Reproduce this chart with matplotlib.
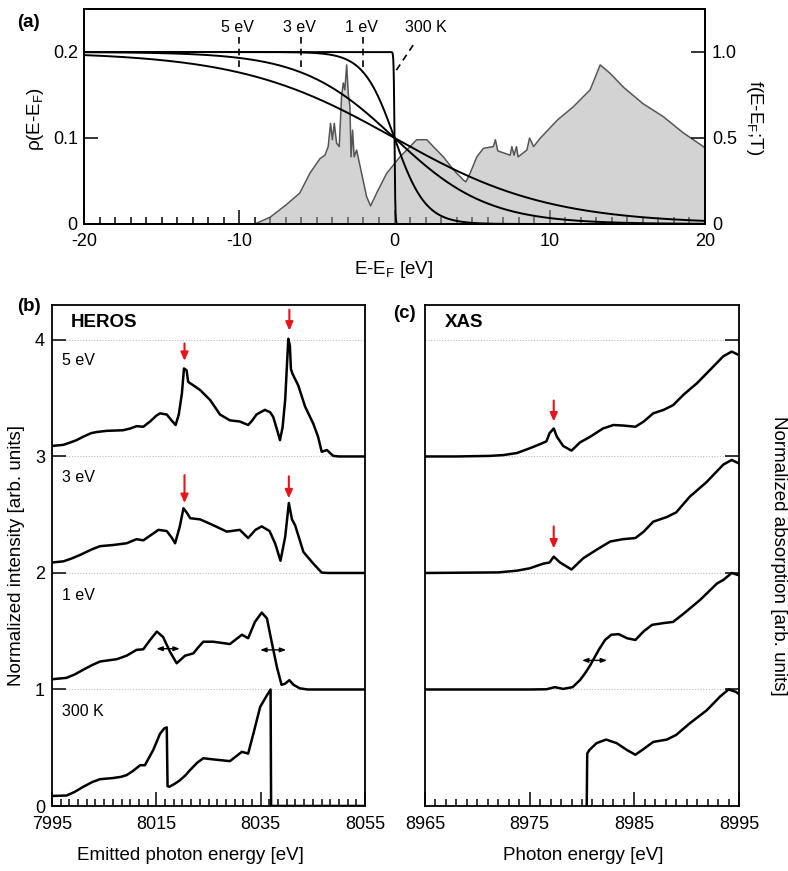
import numpy as np
import matplotlib
matplotlib.use('Agg')
import matplotlib.pyplot as plt
from matplotlib.ticker import MultipleLocator

plt.rcParams['font.family'] = ['Liberation Sans', 'DejaVu Sans']
plt.rcParams['mathtext.fontset'] = 'custom'
plt.rcParams['mathtext.rm'] = 'Liberation Sans'
plt.rcParams['axes.unicode_minus'] = False

# ---------------- data: panel (a) ----------------
dos_E = [-20, -9.0, -8.0, -7.0, -6.1, -5.45, -4.8, -4.48, -4.27, -4.12, -4.0, -3.88, -3.73,
         -3.56, -3.41, -3.3, -3.2, -3.08, -2.98, -2.87, -2.8, -2.7, -2.6, -2.44, -2.12, -1.8,
         -1.54, -1.15, -0.5, 0.35, 1.0, 1.43, 2.08, 2.5, 3.15, 3.8, 4.44, 4.6, 4.87, 5.3, 5.73,
         6.37, 6.5, 6.65, 7.45, 7.56, 7.7, 7.86, 7.96, 8.53, 8.7, 8.96, 9.4, 10.5, 11.5, 12.6,
         13.25, 13.9, 14.75, 16.0, 17.3, 18.6, 19.9, 20.0]
dos_val = [0, 0, 0.008, 0.022, 0.036, 0.059, 0.076, 0.080, 0.090, 0.117, 0.098, 0.117, 0.094,
           0.090, 0.148, 0.164, 0.156, 0.185, 0.152, 0.136, 0.078, 0.109, 0.078, 0.086, 0.059,
           0.032, 0.021, 0.036, 0.059, 0.078, 0.090, 0.098, 0.098, 0.090, 0.078, 0.063, 0.051,
           0.049, 0.059, 0.078, 0.088, 0.090, 0.098, 0.085, 0.080, 0.090, 0.080, 0.090, 0.078,
           0.086, 0.100, 0.090, 0.100, 0.121, 0.136, 0.156, 0.185, 0.175, 0.159, 0.140, 0.125,
           0.106, 0.090, 0.088]
kT_values = [5.0, 3.0, 1.0, 0.02585]          # eV (300 K = 0.02585 eV)
kT_labels = ['5 eV', '3 eV', '1 eV', '300 K']

# ---------------- data: panel (b) HEROS ----------------
heros_labels = ['5 eV', '3 eV', '1 eV', '300 K']
heros_5_E = [7995, 7997.2, 7998.5, 7999.7, 8001, 8002.5, 8003.6, 8005.5, 8008.6, 8010.0, 8011.2,
             8012.5, 8013.8, 8015.0, 8015.7, 8017, 8017.9, 8018.7, 8019.3, 8019.9, 8020.3, 8020.8,
             8021.1, 8022.1, 8023.4, 8025.3, 8026.3, 8027.2, 8029.1, 8031, 8032.6, 8033.4, 8034.2,
             8035.8, 8036.8, 8037.4, 8038.2, 8038.7, 8039.2, 8039.7, 8040.0, 8040.3, 8040.6,
             8040.8, 8041.1, 8042.2, 8043.5, 8045.1, 8046.0, 8046.7, 8047.7, 8048.9, 8050, 8055]
heros_5_I = [3.09, 3.10, 3.12, 3.14, 3.17, 3.20, 3.21, 3.22, 3.225, 3.24, 3.26, 3.255, 3.30, 3.35,
             3.37, 3.36, 3.31, 3.27, 3.36, 3.54, 3.755, 3.74, 3.64, 3.61, 3.57, 3.485, 3.42, 3.36,
             3.31, 3.30, 3.27, 3.31, 3.36, 3.40, 3.38, 3.34, 3.22, 3.14, 3.25, 3.485, 3.75, 4.01,
             3.95, 3.75, 3.71, 3.61, 3.43, 3.28, 3.17, 3.04, 3.055, 3.005, 3.0, 3.0]
heros_3_E = [7995, 7997.2, 7998.8, 8000.4, 8002.5, 8004.2, 8006.7, 8009.3, 8011.2, 8012.5, 8013.8,
             8015.4, 8017, 8018.0, 8018.6, 8019.5, 8020.2, 8020.8, 8021.5, 8023.4, 8025.9, 8028.5,
             8031, 8032.6, 8034.0, 8035.2, 8036.7, 8037.8, 8038.8, 8039.7, 8040.4, 8041, 8041.6,
             8043.2, 8045.1, 8046.7, 8048, 8055]
heros_3_I = [2.09, 2.10, 2.125, 2.155, 2.20, 2.23, 2.24, 2.255, 2.29, 2.28, 2.32, 2.37, 2.36, 2.30,
             2.255, 2.40, 2.555, 2.52, 2.47, 2.46, 2.41, 2.355, 2.37, 2.30, 2.37, 2.40, 2.36, 2.25,
             2.105, 2.31, 2.60, 2.46, 2.41, 2.18, 2.08, 2.003, 2.0, 2.0]
heros_1_E = [7995, 7997.8, 7999.4, 8001, 8002.7, 8004.2, 8007.4, 8009.3, 8011.2, 8012.5, 8013.8,
             8015.1, 8016.3, 8017.6, 8018.9, 8020.5, 8022.1, 8023.0, 8024, 8025.9, 8029.1, 8031.4,
             8032.6, 8033.9, 8035.2, 8036.2, 8037.1, 8038.1, 8039, 8039.7, 8040.5, 8041.3, 8042.5,
             8044, 8055]
heros_1_I = [1.088, 1.10, 1.13, 1.17, 1.21, 1.24, 1.26, 1.29, 1.34, 1.345, 1.425, 1.497, 1.45,
             1.325, 1.225, 1.29, 1.31, 1.36, 1.41, 1.41, 1.39, 1.47, 1.44, 1.58, 1.66, 1.61, 1.41,
             1.195, 1.04, 1.05, 1.08, 1.04, 1.01, 1.0, 1.0]
heros_0_E = [7995, 7997.8, 7999.3, 8001, 8002.7, 8004.2, 8006.7, 8008.2, 8009.3, 8010.5, 8011.9,
             8012.8, 8014.4, 8015.7, 8016.5, 8017.0, 8017.15, 8017.5, 8018.5, 8019.5, 8020.5,
             8021.5, 8022.8, 8024, 8025.9, 8029.1, 8031.4, 8032.6, 8033.6, 8034.9, 8036.2, 8036.9,
             8037.0, 8055]
heros_0_I = [0.086, 0.09, 0.12, 0.165, 0.205, 0.23, 0.24, 0.25, 0.265, 0.30, 0.35, 0.35, 0.48,
             0.62, 0.665, 0.675, 0.17, 0.165, 0.19, 0.22, 0.26, 0.31, 0.37, 0.41, 0.40, 0.385,
             0.465, 0.45, 0.62, 0.85, 0.95, 1.0, 0.0, 0.0]

# ---------------- data: panel (c) XAS ----------------
xas_5_E = [8965, 8968, 8971.2, 8972.5, 8973.8, 8975, 8976.1, 8976.6, 8976.9, 8977.3, 8977.6,
           8978.2, 8979, 8979.8, 8980.8, 8982, 8983, 8984, 8985.1, 8985.9, 8986.8, 8987.8,
           8988.7, 8989.7, 8991, 8992.2, 8993.5, 8994.3, 8995]
xas_5_I = [3.0, 3.0, 3.005, 3.012, 3.03, 3.07, 3.11, 3.13, 3.20, 3.24, 3.17, 3.09, 3.05, 3.12,
           3.17, 3.24, 3.27, 3.265, 3.255, 3.30, 3.37, 3.40, 3.44, 3.53, 3.63, 3.74, 3.86, 3.90,
           3.87]
xas_3_E = [8965, 8972, 8973.8, 8975, 8976.3, 8976.9, 8977.3, 8977.9, 8979, 8980.1, 8981.4,
           8982.7, 8983.9, 8985.1, 8985.9, 8986.8, 8988.1, 8989, 8990.3, 8991.9, 8993.5, 8994.3,
           8995]
xas_3_I = [2.0, 2.005, 2.02, 2.04, 2.08, 2.09, 2.14, 2.09, 2.03, 2.125, 2.20, 2.27, 2.29, 2.30,
           2.355, 2.44, 2.48, 2.52, 2.655, 2.78, 2.93, 2.97, 2.94]
xas_1_E = [8965, 8975, 8976.6, 8977.4, 8978.2, 8979.1, 8979.8, 8980.3, 8980.8, 8981.6, 8982.2,
           8982.8, 8983.5, 8984.3, 8985.1, 8985.9, 8986.7, 8987.8, 8988.7, 8989.7, 8991.3,
           8992.9, 8993.5, 8994.3, 8995]
xas_1_I = [1.0, 1.0, 1.002, 1.02, 1.005, 1.02, 1.08, 1.14, 1.21, 1.34, 1.425, 1.47, 1.475, 1.44,
           1.425, 1.50, 1.555, 1.57, 1.58, 1.65, 1.77, 1.91, 1.94, 2.0, 1.98]
xas_0_E = [8980.45, 8980.5, 8980.7, 8981.4, 8982.3, 8983.3, 8984.3, 8985.1, 8985.9, 8986.8,
           8988.1, 8989, 8990.3, 8991.9, 8993.2, 8994, 8994.7, 8995]
xas_0_I = [0.0, 0.45, 0.48, 0.54, 0.57, 0.54, 0.48, 0.44, 0.49, 0.55, 0.57, 0.61, 0.71, 0.82,
           0.94, 1.0, 0.98, 0.96]

# red arrow marks (x, y_start, y_end) and double arrows (x0, x1, y)
heros_red = [(8020.4, 3.97, 3.82), (8040.5, 4.26, 4.08), (8020.4, 2.84, 2.60), (8040.4, 2.83, 2.64)]
heros_dbl = [(8015.0, 8019.5, 1.35), (8034.9, 8039.9, 1.34)]
xas_red = [(8977.3, 3.48, 3.30), (8977.3, 2.40, 2.21)]
xas_dbl = [(8980.0, 8982.4, 1.25)]

# ---------------- figure ----------------
W, H = 788, 871
fig = plt.figure(figsize=(W / 100, H / 100), dpi=100)


def box(l, t, r, b):
    return [l / W, 1 - b / H, (r - l) / W, (b - t) / H]


FS = 13
axA = fig.add_axes(box(84, 9, 705, 224))
axB = fig.add_axes(box(52, 305, 365, 806))
axC = fig.add_axes(box(425, 305, 739, 806))

for ax in (axA, axB, axC):
    for s in ax.spines.values():
        s.set_linewidth(1.3)

# ----- panel (a) -----
axA.set_axisbelow(True)
axA.set_xlim(-20, 20)
axA.set_ylim(0, 0.25)
axA.fill_between(dos_E, dos_val, color='#acacac', alpha=0.52, lw=0, zorder=1)
axA.plot(dos_E, dos_val, color='#555555', lw=1.1, zorder=1.5)
axA.set_xticks([-20, -10, 0, 10, 20])
axA.xaxis.set_minor_locator(MultipleLocator(1))
axA.set_yticks([0, 0.1, 0.2])
axA.set_yticklabels(['0', '0.1', '0.2'])
axA.tick_params(which='both', direction='in', top=False, right=False, labelsize=FS, width=1.1)
axA.tick_params(which='major', length=10)
axA.tick_params(which='minor', length=5)
axA.tick_params(axis='x', pad=6.5)
axA.tick_params(axis='y', pad=4.5)

ax2 = axA.twinx()
ax2.set_ylim(0, 1.25)
ax2.set_yticks([0, 0.5, 1.0])
ax2.set_yticklabels(['0', '0.5', '1.0'])
ax2.tick_params(direction='in', length=10, width=1.1, labelsize=FS, pad=5)
for s in ax2.spines.values():
    s.set_linewidth(1.3)

Egrid = np.linspace(-20, 20, 8001)
for kT, lab in zip(kT_values, kT_labels):
    f = 1.0 / (1.0 + np.exp(np.clip(Egrid / kT, -700, 700)))
    ax2.plot(Egrid, f, color='black', lw=1.4)
    if lab != '300 K':
        x0 = -2 * kT
        f0 = 1.0 / (1.0 + np.exp(-2.0))
        ax2.plot([x0, x0], [1.085, f0], color='black', lw=1.2, ls=(0, (4, 3)))
        ax2.text(x0 - 0.1, 1.14, lab, ha='center', va='center', fontsize=11.5)
    else:
        ax2.plot([1.2, 0.05], [1.04, 0.885], color='black', lw=1.2, ls=(0, (4, 3)))
        ax2.text(2.0, 1.14, lab, ha='center', va='center', fontsize=11.5)

fig.text(394 / W, 1 - 270 / H, r'E-E$_\mathregular{F}$ [eV]', ha='center', va='center', fontsize=13.5)
fig.text(35 / W, 1 - 119 / H, r'ρ(E-E$_\mathregular{F}$)', ha='center', va='center', fontsize=13.5,
         rotation=90)
fig.text(755 / W, 1 - 118 / H, r'f(E-E$_\mathregular{F}$;T)', ha='center', va='center',
         fontsize=13.5, rotation=-90)

# ----- common settings for (b), (c) -----
grid_kw = dict(color='#bdbdbd', lw=0.8, ls=(0, (1, 1.5)), zorder=0)
line_kw = dict(color='black', lw=1.8, solid_joinstyle='round')


def red_arrow(ax, x, y0, y1):
    ax.annotate('', xy=(x, y1), xytext=(x, y0),
                arrowprops=dict(arrowstyle='-|>,head_length=0.5,head_width=0.22', color='#e8141b',
                                lw=1.5, shrinkA=0, shrinkB=0))


def dbl_arrow(ax, x0, x1, y):
    ax.annotate('', xy=(x1, y), xytext=(x0, y),
                arrowprops=dict(arrowstyle='<|-|>,head_length=0.35,head_width=0.13', color='black',
                                lw=1.0, shrinkA=0, shrinkB=0))


# ----- panel (b) -----
axB.set_xlim(7995, 8055)
axB.set_ylim(0, 4.3)
for y in [1, 2, 3, 4]:
    axB.axhline(y, **grid_kw)
for Ev, Iv in [(heros_5_E, heros_5_I), (heros_3_E, heros_3_I), (heros_1_E, heros_1_I),
               (heros_0_E, heros_0_I)]:
    axB.plot(Ev, Iv, **line_kw)
for x, y0, y1 in heros_red:
    red_arrow(axB, x, y0, y1)
for x0, x1, y in heros_dbl:
    dbl_arrow(axB, x0, x1, y)
for lab, yv in zip(heros_labels, [3.82, 2.82, 1.81, 0.81]):
    axB.text(7997.0, yv, lab, ha='left', va='center', fontsize=11.5)
axB.text(7998.5, 4.15, 'HEROS', ha='left', va='center', fontsize=13.5, fontweight='bold')
axB.set_xticks([7995, 8015, 8035, 8055])
axB.xaxis.set_minor_locator(MultipleLocator(20 / 12))
axB.set_yticks([0, 1, 2, 3, 4])
axB.tick_params(which='both', direction='in', top=False, right=False, labelsize=FS, width=1.1)
axB.tick_params(which='major', length=10)
axB.tick_params(which='minor', length=5)
axB.tick_params(axis='x', pad=7.5)
axB.tick_params(axis='y', pad=5)

fig.text(190 / W, 1 - 855 / H, 'Emitted photon energy [eV]', ha='center', va='center', fontsize=13.5)
fig.text(17 / W, 1 - 555 / H, 'Normalized intensity [arb. units]', ha='center', va='center',
         fontsize=13.5, rotation=90)

# ----- panel (c) -----
axC.set_xlim(8965, 8995)
axC.set_ylim(0, 4.3)
for y in [1, 2, 3, 4]:
    axC.axhline(y, **grid_kw)
for Ev, Iv in [(xas_5_E, xas_5_I), (xas_3_E, xas_3_I), (xas_1_E, xas_1_I), (xas_0_E, xas_0_I)]:
    axC.plot(Ev, Iv, **line_kw)
for x, y0, y1 in xas_red:
    red_arrow(axC, x, y0, y1)
for x0, x1, y in xas_dbl:
    dbl_arrow(axC, x0, x1, y)
axC.text(8966.9, 4.15, 'XAS', ha='left', va='center', fontsize=13.5, fontweight='bold')
axC.set_xticks([8965, 8975, 8985, 8995])
axC.xaxis.set_minor_locator(MultipleLocator(1))
axC.set_yticks([1, 2, 3, 4])
axC.tick_params(which='both', direction='in', top=False, left=False, right=True,
                labelleft=False, labelsize=FS, width=1.1)
axC.tick_params(which='major', length=10)
axC.tick_params(which='minor', length=5)
axC.tick_params(axis='x', pad=7.5)

fig.text(583 / W, 1 - 855 / H, 'Photon energy [eV]', ha='center', va='center', fontsize=13.5)
fig.text(778 / W, 1 - 556 / H, 'Normalized absorption [arb. units]', ha='center', va='center',
         fontsize=13.5, rotation=-90)

# panel labels
fig.text(17 / W, 1 - 27 / H, '(a)', ha='left', va='baseline', fontsize=13.5, fontweight='bold')
fig.text(17 / W, 1 - 311 / H, '(b)', ha='left', va='baseline', fontsize=13.5, fontweight='bold')
fig.text(393 / W, 1 - 318 / H, '(c)', ha='left', va='baseline', fontsize=13.5, fontweight='bold')

fig.savefig('out.png', dpi=100)
